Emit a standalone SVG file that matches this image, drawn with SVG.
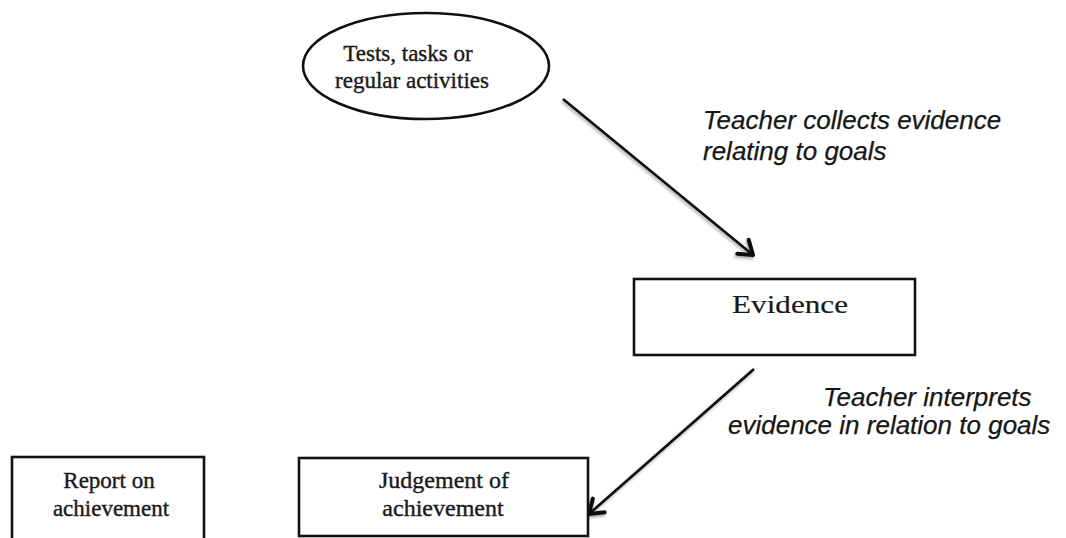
<svg xmlns="http://www.w3.org/2000/svg" width="1066" height="538" viewBox="0 0 1066 538">
  <style>
    .shape { fill: #ffffff; stroke: #111111; stroke-width: 2.6; }
    .node-text { font-family: "Liberation Serif", "Times New Roman", serif; fill: #1a1a1a; stroke: #1a1a1a; stroke-width: 0.4; text-anchor: middle; }
    .title { stroke-width: 0.2; }
    .label { font-family: "Liberation Sans", Arial, sans-serif; font-style: italic; font-size: 26px; fill: #161616; stroke: #161616; stroke-width: 0.25; }
    .link { fill: none; stroke: #111111; stroke-width: 2.6; marker-end: url(#chevron); filter: url(#soft); }
  </style>
  <defs>
    <marker id="chevron" viewBox="0 0 20 24" refX="17" refY="12" markerWidth="20" markerHeight="24" markerUnits="userSpaceOnUse" orient="auto">
      <path d="M4,3 L17,12 L4,21" fill="none" stroke="#111111" stroke-width="4" stroke-linecap="round" stroke-linejoin="round"/>
    </marker>
    <filter id="soft" x="-10%" y="-10%" width="120%" height="120%">
      <feGaussianBlur in="SourceAlpha" stdDeviation="1.5"/>
      <feOffset dx="-1" dy="2" result="shade"/>
      <feComponentTransfer><feFuncA type="linear" slope="0.35"/></feComponentTransfer>
      <feMerge><feMergeNode/><feMergeNode in="SourceGraphic"/></feMerge>
    </filter>
  </defs>

  <rect width="1066" height="538" fill="#ffffff"/>

  <!-- connectors -->
  <g id="connectors">
    <line class="link" x1="563" y1="99" x2="753" y2="255"/>
    <line class="link" x1="754" y1="369" x2="589" y2="514"/>
    <line class="link" x1="299" y1="517" x2="206" y2="517"/>
  </g>

  <!-- source of evidence -->
  <g id="activities">
    <ellipse class="shape" cx="426" cy="66" rx="123" ry="53"/>
    <text class="node-text" font-size="23" x="408" y="61">Tests, tasks or</text>
    <text class="node-text" font-size="23" x="412" y="88">regular activities</text>
  </g>

  <g id="evidence">
    <rect class="shape" x="634" y="279" width="281" height="76"/>
    <text class="node-text title" font-size="26" x="790" y="313" textLength="116" lengthAdjust="spacingAndGlyphs">Evidence</text>
  </g>

  <g id="judgement">
    <rect class="shape" x="299" y="458" width="289" height="78"/>
    <text class="node-text" font-size="24" x="444" y="488">Judgement of</text>
    <text class="node-text" font-size="24" x="443" y="516">achievement</text>
  </g>

  <g id="report">
    <rect class="shape" x="12" y="457" width="192" height="100"/>
    <text class="node-text" font-size="23" x="109" y="488">Report on</text>
    <text class="node-text" font-size="23" x="111" y="516">achievement</text>
  </g>

  <!-- step labels -->
  <g id="label-collect">
    <text class="label" x="703" y="129">Teacher collects evidence</text>
    <text class="label" x="703" y="160">relating to goals</text>
  </g>
  <g id="label-interpret">
    <text class="label" x="823" y="406">Teacher interprets</text>
    <text class="label" x="728" y="434">evidence in relation to goals</text>
  </g>
</svg>
